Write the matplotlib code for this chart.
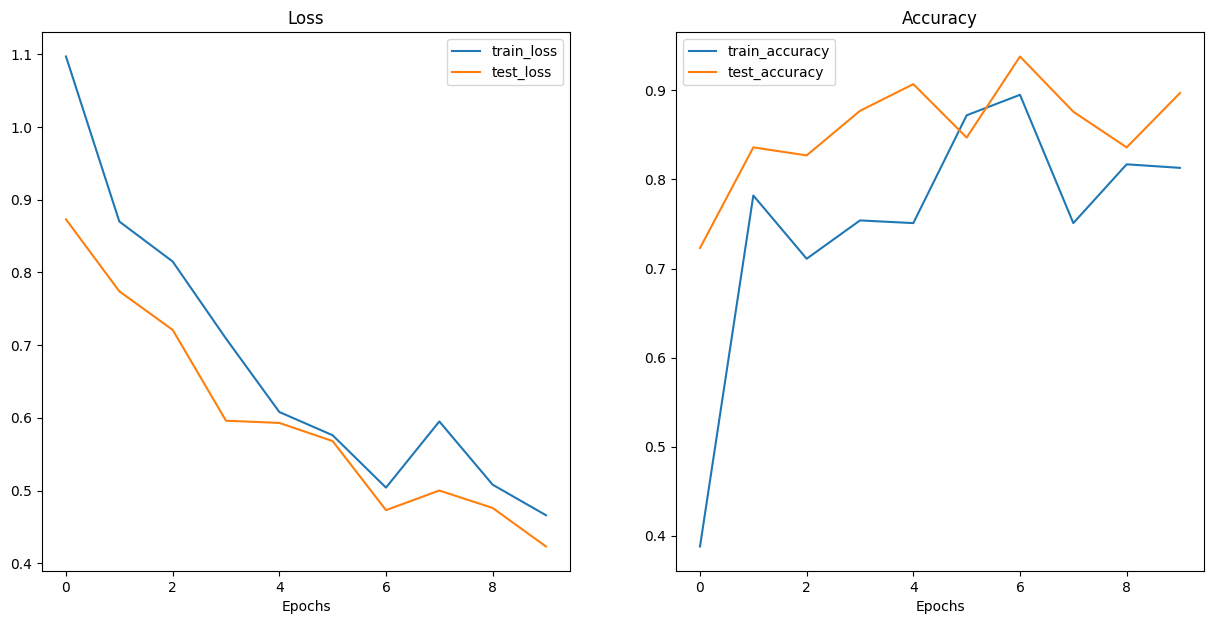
import numpy as np
import matplotlib.pyplot as plt

epochs = list(range(10))
train_loss = [1.097, 0.870, 0.815, 0.709, 0.608, 0.576, 0.504, 0.595, 0.508, 0.466]
test_loss = [0.873, 0.774, 0.721, 0.596, 0.593, 0.568, 0.473, 0.500, 0.476, 0.423]
train_accuracy = [0.388, 0.782, 0.711, 0.754, 0.751, 0.872, 0.895, 0.751, 0.817, 0.813]
test_accuracy = [0.723, 0.836, 0.827, 0.877, 0.907, 0.847, 0.938, 0.876, 0.836, 0.897]

fig = plt.figure(figsize=(12.14, 6.24), dpi=100)

# axes placed to match the reference pixel layout
ax1 = fig.add_axes([42 / 1214, 1 - 571 / 624, 528 / 1214, 539 / 624])
ax1.plot(epochs, train_loss, label='train_loss')
ax1.plot(epochs, test_loss, label='test_loss')
ax1.set_title('Loss')
ax1.set_xlabel('Epochs')
ax1.legend()

ax2 = fig.add_axes([676 / 1214, 1 - 571 / 624, 528 / 1214, 539 / 624])
ax2.plot(epochs, train_accuracy, label='train_accuracy')
ax2.plot(epochs, test_accuracy, label='test_accuracy')
ax2.set_title('Accuracy')
ax2.set_xlabel('Epochs')
ax2.legend()

fig.savefig('out.png', dpi=100)
